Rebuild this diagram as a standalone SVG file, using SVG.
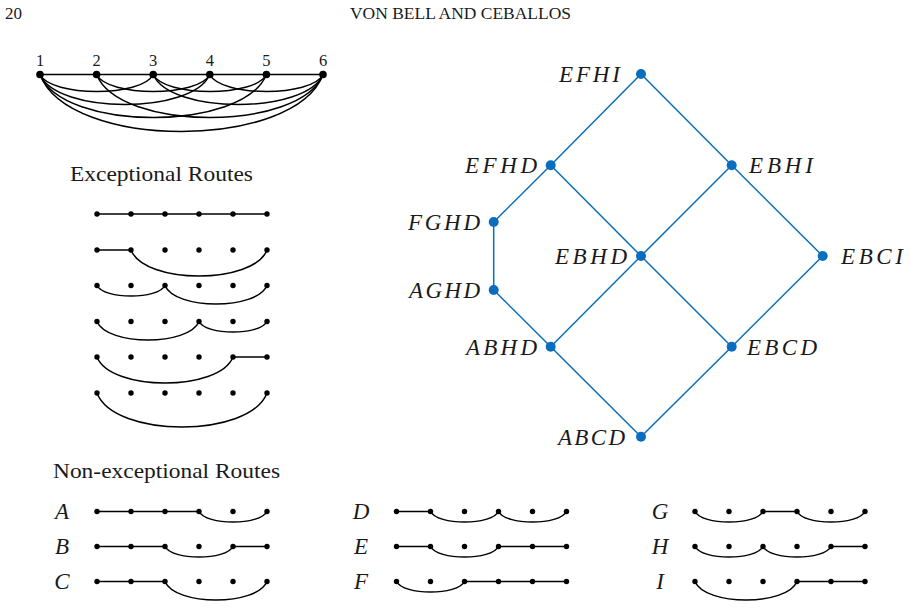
<svg xmlns="http://www.w3.org/2000/svg" width="910" height="609" viewBox="0 0 910 609">
<style>
  .bg{fill:#ffffff}
  .hdr{font-family:"Liberation Serif",serif;font-size:17px;fill:#1a1a1a}
  .ttl{font-family:"Liberation Serif",serif;font-size:21px;fill:#1a1a1a}
  .num{font-family:"Liberation Serif",serif;font-size:16.5px;fill:#1a1a1a;text-anchor:middle}
  .rl{font-family:"Liberation Serif",serif;font-style:italic;font-size:23px;fill:#1a1a1a;text-anchor:middle}
  .ll{font-family:"Liberation Serif",serif;font-style:italic;font-size:23px;fill:#1a1a1a}
  .e{fill:none;stroke:#000;stroke-width:1.5}
  .d{fill:#000}
  .le{fill:none;stroke:#0a6ebd;stroke-width:1.5}
  .ld{fill:#0a6ebd}
</style>
<rect class="bg" x="0" y="0" width="910" height="609"/>

<!-- header -->
<text class="hdr" x="5" y="19">20</text>
<text class="hdr" x="350" y="19" textLength="221" lengthAdjust="spacingAndGlyphs">VON BELL AND CEBALLOS</text>

<!-- top graph: K6 minus edge 2-5 -->
<g id="top-graph">
  <g id="top-edges">
    <path class="e" d="M40 74.5 H323"/>
    <path class="e" d="M40 74.5 C51.3 97.2 141.9 97.2 153.2 74.5"/>
    <path class="e" d="M96.6 74.5 C107.9 97.2 198.5 97.2 209.8 74.5"/>
    <path class="e" d="M153.2 74.5 C164.5 97.2 255.1 97.2 266.4 74.5"/>
    <path class="e" d="M209.8 74.5 C221.1 97.2 311.7 97.2 323 74.5"/>
    <path class="e" d="M40 74.5 C57 114.5 192.8 114.5 209.8 74.5"/>
    <path class="e" d="M153.2 74.5 C170.2 114.5 306 114.5 323 74.5"/>
    <path class="e" d="M40 74.5 C62.6 131.8 243.8 131.8 266.4 74.5"/>
    <path class="e" d="M96.6 74.5 C119.2 131.8 300.4 131.8 323 74.5"/>
    <path class="e" d="M40 74.5 C68.3 150.5 294.7 150.5 323 74.5"/>
  </g>
  <g id="v1"><circle class="d" cx="40" cy="74.5" r="3.8"/><text class="num" x="40" y="65.5">1</text></g>
  <g id="v2"><circle class="d" cx="96.6" cy="74.5" r="3.8"/><text class="num" x="96.6" y="65.5">2</text></g>
  <g id="v3"><circle class="d" cx="153.2" cy="74.5" r="3.8"/><text class="num" x="153.2" y="65.5">3</text></g>
  <g id="v4"><circle class="d" cx="209.8" cy="74.5" r="3.8"/><text class="num" x="209.8" y="65.5">4</text></g>
  <g id="v5"><circle class="d" cx="266.4" cy="74.5" r="3.8"/><text class="num" x="266.4" y="65.5">5</text></g>
  <g id="v6"><circle class="d" cx="323" cy="74.5" r="3.8"/><text class="num" x="323" y="65.5">6</text></g>
</g>

<!-- exceptional routes -->
<text class="ttl" x="70" y="181" textLength="183" lengthAdjust="spacingAndGlyphs">Exceptional Routes</text>
<defs>
  <g id="dots6">
    <circle class="d" cx="0" cy="0" r="2.7"/>
    <circle class="d" cx="34" cy="0" r="2.7"/>
    <circle class="d" cx="68" cy="0" r="2.7"/>
    <circle class="d" cx="102" cy="0" r="2.7"/>
    <circle class="d" cx="136" cy="0" r="2.7"/>
    <circle class="d" cx="170" cy="0" r="2.7"/>
  </g>
</defs>
<g id="exceptional">
  <g id="ex1">
    <path class="e" d="M97 214 H267"/>
    <use href="#dots6" x="97" y="214"/>
  </g>
  <g id="ex2">
    <path class="e" d="M97 250 H131"/>
    <path class="e" d="M131 250 C144.6 284.7 253.4 284.7 267 250"/>
    <use href="#dots6" x="97" y="250"/>
  </g>
  <g id="ex3">
    <path class="e" d="M97 285.5 C103.8 299.5 158.2 299.5 165 285.5"/>
    <path class="e" d="M165 285.5 C175.2 310.2 256.8 310.2 267 285.5"/>
    <use href="#dots6" x="97" y="285.5"/>
  </g>
  <g id="ex4">
    <path class="e" d="M97 321.5 C107.2 346.2 188.8 346.2 199 321.5"/>
    <path class="e" d="M199 321.5 C205.8 335.5 260.2 335.5 267 321.5"/>
    <use href="#dots6" x="97" y="321.5"/>
  </g>
  <g id="ex5">
    <path class="e" d="M97 357 C110.6 391.7 219.4 391.7 233 357"/>
    <path class="e" d="M233 357 H267"/>
    <use href="#dots6" x="97" y="357"/>
  </g>
  <g id="ex6">
    <path class="e" d="M97 393 C114 438.3 250 438.3 267 393"/>
    <use href="#dots6" x="97" y="393"/>
  </g>
</g>

<!-- non-exceptional routes -->
<text class="ttl" x="53" y="478" textLength="227" lengthAdjust="spacingAndGlyphs">Non-exceptional Routes</text>
<g id="non-exceptional">
  <g id="route-A">
    <text class="rl" x="62" y="519">A</text>
    <path class="e" d="M97 511.5 H199"/>
    <path class="e" d="M199 511.5 C205.8 525.5 260.2 525.5 267 511.5"/>
    <use href="#dots6" x="97" y="511.5"/>
  </g>
  <g id="route-B">
    <text class="rl" x="62" y="554">B</text>
    <path class="e" d="M97 546.5 H165"/>
    <path class="e" d="M165 546.5 C171.8 560.5 226.2 560.5 233 546.5"/>
    <path class="e" d="M233 546.5 H267"/>
    <use href="#dots6" x="97" y="546.5"/>
  </g>
  <g id="route-C">
    <text class="rl" x="62" y="589">C</text>
    <path class="e" d="M97 581.5 H165"/>
    <path class="e" d="M165 581.5 C175.2 606.2 256.8 606.2 267 581.5"/>
    <use href="#dots6" x="97" y="581.5"/>
  </g>
  <g id="route-D">
    <text class="rl" x="361" y="519">D</text>
    <path class="e" d="M396.5 511.5 H430.5"/>
    <path class="e" d="M430.5 511.5 C437.3 525.5 491.7 525.5 498.5 511.5"/>
    <path class="e" d="M498.5 511.5 C505.3 525.5 559.7 525.5 566.5 511.5"/>
    <use href="#dots6" x="396.5" y="511.5"/>
  </g>
  <g id="route-E">
    <text class="rl" x="361" y="554">E</text>
    <path class="e" d="M396.5 546.5 H430.5"/>
    <path class="e" d="M430.5 546.5 C437.3 560.5 491.7 560.5 498.5 546.5"/>
    <path class="e" d="M498.5 546.5 H566.5"/>
    <use href="#dots6" x="396.5" y="546.5"/>
  </g>
  <g id="route-F">
    <text class="rl" x="361" y="589">F</text>
    <path class="e" d="M396.5 581.5 C403.3 595.5 457.7 595.5 464.5 581.5"/>
    <path class="e" d="M464.5 581.5 H566.5"/>
    <use href="#dots6" x="396.5" y="581.5"/>
  </g>
  <g id="route-G">
    <text class="rl" x="660" y="519">G</text>
    <path class="e" d="M695 511.5 C701.8 525.5 756.2 525.5 763 511.5"/>
    <path class="e" d="M763 511.5 H797"/>
    <path class="e" d="M797 511.5 C803.8 525.5 858.2 525.5 865 511.5"/>
    <use href="#dots6" x="695" y="511.5"/>
  </g>
  <g id="route-H">
    <text class="rl" x="660" y="554">H</text>
    <path class="e" d="M695 546.5 C701.8 560.5 756.2 560.5 763 546.5"/>
    <path class="e" d="M763 546.5 C769.8 560.5 824.2 560.5 831 546.5"/>
    <path class="e" d="M831 546.5 H865"/>
    <use href="#dots6" x="695" y="546.5"/>
  </g>
  <g id="route-I">
    <text class="rl" x="660" y="589">I</text>
    <path class="e" d="M695 581.5 C705.2 606.2 786.8 606.2 797 581.5"/>
    <path class="e" d="M797 581.5 H865"/>
    <use href="#dots6" x="695" y="581.5"/>
  </g>
</g>

<!-- lattice -->
<g id="lattice-edges">
  <path class="le" d="M641 74 L550.7 165.3"/>
  <path class="le" d="M641 74 L731.7 165.3"/>
  <path class="le" d="M550.7 165.3 L493.7 222"/>
  <path class="le" d="M550.7 165.3 L641 256"/>
  <path class="le" d="M731.7 165.3 L641 256"/>
  <path class="le" d="M731.7 165.3 L822.7 256"/>
  <path class="le" d="M493.7 222 L493.7 290"/>
  <path class="le" d="M493.7 290 L550.7 346.7"/>
  <path class="le" d="M641 256 L550.7 346.7"/>
  <path class="le" d="M641 256 L731.7 346.7"/>
  <path class="le" d="M822.7 256 L731.7 346.7"/>
  <path class="le" d="M550.7 346.7 L641 436.7"/>
  <path class="le" d="M731.7 346.7 L641 436.7"/>
</g>
<g id="EFHI"><circle class="ld" cx="641" cy="74" r="5"/><text class="ll" x="559" y="82" textLength="61" lengthAdjust="spacing">EFHI</text></g>
<g id="EFHD"><circle class="ld" cx="550.7" cy="165.3" r="5"/><text class="ll" x="465" y="173" textLength="72" lengthAdjust="spacing">EFHD</text></g>
<g id="EBHI"><circle class="ld" cx="731.7" cy="165.3" r="5"/><text class="ll" x="749" y="173" textLength="64" lengthAdjust="spacing">EBHI</text></g>
<g id="FGHD"><circle class="ld" cx="493.7" cy="222" r="5"/><text class="ll" x="408" y="229.5" textLength="72" lengthAdjust="spacing">FGHD</text></g>
<g id="EBHD"><circle class="ld" cx="641" cy="256" r="5"/><text class="ll" x="555" y="263.5" textLength="72" lengthAdjust="spacing">EBHD</text></g>
<g id="EBCI"><circle class="ld" cx="822.7" cy="256" r="5"/><text class="ll" x="841" y="263.5" textLength="62" lengthAdjust="spacing">EBCI</text></g>
<g id="AGHD"><circle class="ld" cx="493.7" cy="290" r="5"/><text class="ll" x="409" y="297.5" textLength="71" lengthAdjust="spacing">AGHD</text></g>
<g id="ABHD"><circle class="ld" cx="550.7" cy="346.7" r="5"/><text class="ll" x="466" y="354.5" textLength="71" lengthAdjust="spacing">ABHD</text></g>
<g id="EBCD"><circle class="ld" cx="731.7" cy="346.7" r="5"/><text class="ll" x="747" y="354.5" textLength="70" lengthAdjust="spacing">EBCD</text></g>
<g id="ABCD"><circle class="ld" cx="641" cy="436.7" r="5"/><text class="ll" x="558" y="444.5" textLength="67" lengthAdjust="spacing">ABCD</text></g>
</svg>
